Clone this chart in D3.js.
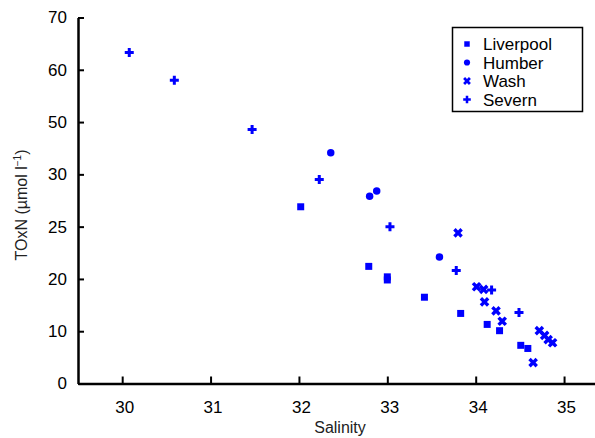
<!DOCTYPE html>
<html>
<head>
<meta charset="utf-8">
<script src="https://cdn.jsdelivr.net/npm/d3@7/dist/d3.min.js"></script>
<style>
  html, body { margin: 0; padding: 0; background: #fff; }
  svg { display: block; font-family: "Liberation Sans", Arial, sans-serif; }
</style>
</head>
<body>
<svg id="chart" width="595" height="438"></svg>
<script>
// Nitrate (TOxN) against salinity for four estuaries
const liverpoolSal = [32.02, 32.79, 33.00, 33.00, 33.42, 33.83, 34.13, 34.27, 34.51, 34.59];
const liverpoolTox = [26.9, 21.2, 20.2, 19.8, 16.5, 13.4, 11.3, 10.1, 7.3, 6.7];

const humberSal = [32.36, 32.88, 32.80, 33.59];
const humberTox = [38.3, 28.4, 27.9, 22.1];

const washSal = [33.80, 34.01, 34.09, 34.10, 34.23, 34.30, 34.72, 34.78, 34.82, 34.87, 34.65];
const washTox = [24.4, 18.5, 18.0, 15.6, 13.9, 11.9, 10.1, 9.2, 8.4, 7.8, 4.0];

const severnSal = [30.08, 30.59, 31.47, 32.23, 33.03, 33.78, 34.18, 34.49];
const severnTox = [63.3, 58.0, 47.2, 29.5, 25.0, 20.8, 17.9, 13.6];

const seriesNames = ["Liverpool", "Humber", "Wash", "Severn"];
const xTicks = [30, 31, 32, 33, 34, 35];
const yTicks = [0, 10, 20, 25, 30, 50, 60, 70];

const svg = d3.select("#chart");
const plotLeft = 78, plotRight = 595, plotTop = 17.5, plotBottom = 383.5;
const blue = "#0000ff";

const x = d3.scaleLinear().domain([29.5, 35.35]).range([plotLeft, plotRight]);
// piecewise scale: each labelled tick is evenly spaced along the axis
const yStep = (plotBottom - plotTop) / (yTicks.length - 1);
const y = d3.scaleLinear()
  .domain(yTicks)
  .range(yTicks.map((_, i) => plotBottom - i * yStep));

// symbols per series
const sym = {
  Liverpool: d3.symbol().type(d3.symbolSquare).size(49),
  Humber: d3.symbol().type(d3.symbolCircle).size(44),
  Wash: d3.symbol().type(d3.symbolCross).size(58),
  Severn: d3.symbol().type(d3.symbolCross).size(45)
};
const rot = { Liverpool: 0, Humber: 0, Wash: 45, Severn: 0 };

const series = [
  { name: "Liverpool", sal: liverpoolSal, tox: liverpoolTox },
  { name: "Humber", sal: humberSal, tox: humberTox },
  { name: "Wash", sal: washSal, tox: washTox },
  { name: "Severn", sal: severnSal, tox: severnTox }
];

// axes
const xAxis = d3.axisBottom(x).tickValues(xTicks).tickFormat(d3.format("d"))
  .tickSizeInner(-7).tickSizeOuter(0).tickPadding(17);
const gx = svg.append("g").attr("transform", `translate(0,${plotBottom})`).call(xAxis);
gx.select(".domain").attr("stroke", "#000").attr("stroke-width", 2.5);
gx.selectAll(".tick line").attr("stroke", "#000").attr("stroke-width", 2);
gx.selectAll(".tick text").attr("font-size", 17).attr("fill", "#000")
  .attr("font-family", "Liberation Sans, Arial, sans-serif").attr("dx", 2);

const yAxis = d3.axisLeft(y).tickValues(yTicks).tickFormat(d3.format("d"))
  .tickSizeInner(-6).tickSizeOuter(0).tickPadding(11);
const gy = svg.append("g").attr("transform", `translate(${plotLeft},0)`).call(yAxis);
gy.select(".domain").attr("stroke", "#000").attr("stroke-width", 2.5);
gy.selectAll(".tick line").attr("stroke", "#000").attr("stroke-width", 2);
gy.selectAll(".tick text").attr("font-size", 17).attr("fill", "#000")
  .attr("font-family", "Liberation Sans, Arial, sans-serif");

// axis titles
svg.append("text")
  .attr("x", 340).attr("y", 433)
  .attr("text-anchor", "middle").attr("font-size", 16).attr("fill", "#222")
  .text("Salinity");

const yt = svg.append("text")
  .attr("transform", "translate(27,205) rotate(-90)")
  .attr("text-anchor", "middle").attr("font-size", 16).attr("fill", "#222");
yt.append("tspan").text("TOxN (\u00b5mol l");
yt.append("tspan").attr("font-size", 10).attr("dy", -6).text("\u22121");
yt.append("tspan").attr("dy", 6).text(")");

// points
series.forEach(s => {
  svg.append("g").selectAll("path")
    .data(s.sal.map((v, i) => [v, s.tox[i]]))
    .join("path")
    .attr("d", sym[s.name]())
    .attr("fill", blue)
    .attr("transform", d => `translate(${x(d[0])},${y(d[1])}) rotate(${rot[s.name]})`);
});

// legend
const lg = svg.append("g");
lg.append("rect")
  .attr("x", 452.5).attr("y", 27.5).attr("width", 130).attr("height", 84)
  .attr("fill", "#fff").attr("stroke", "#000").attr("stroke-width", 1.5);
const legSym = {
  Liverpool: d3.symbol().type(d3.symbolSquare).size(30),
  Humber: d3.symbol().type(d3.symbolCircle).size(30),
  Wash: d3.symbol().type(d3.symbolCross).size(38),
  Severn: d3.symbol().type(d3.symbolCross).size(32)
};
seriesNames.forEach((n, i) => {
  const cy = 44 + i * 18.5;
  lg.append("path")
    .attr("d", legSym[n]())
    .attr("fill", blue)
    .attr("transform", `translate(467,${cy}) rotate(${rot[n]})`);
  lg.append("text")
    .attr("x", 483).attr("y", cy + 6)
    .attr("font-size", 17).attr("fill", "#000")
    .text(n);
});
</script>
</body>
</html>
